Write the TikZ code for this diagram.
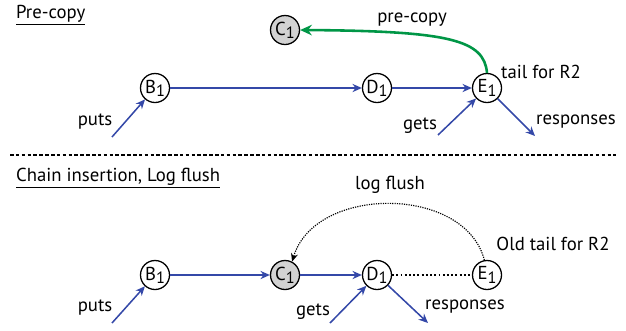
\documentclass[tikz,border=0pt]{standalone}
\usepackage{fontspec}
\setmainfont{PT Sans}
\usepackage{tikz}
\usetikzlibrary{arrows.meta, positioning, calc}

\definecolor{chainblue}{RGB}{52,72,168}
\definecolor{copygreen}{RGB}{0,150,70}
\newcommand{\rep}[1]{#1\raisebox{-0.35ex}{\fontsize{14}{14}\selectfont 1}}

\begin{document}
\begin{tikzpicture}[x=0.03cm, y=-0.03cm, font=\fontsize{16}{18}\selectfont]
  \useasboundingbox (0,0) rectangle (626,330);

  % --- Styles ---
  \tikzset{
    replica/.style={circle, draw, line width=1.1pt, minimum size=0.87cm, inner sep=0pt},
    new replica/.style={replica, fill=gray!35},
    chain link/.style={chainblue, line width=1.3pt, -{Stealth[length=8pt, width=7pt]}},
    copy link/.style={copygreen, line width=2.2pt, -{Stealth[length=10pt, width=9pt]}},
    flush link/.style={densely dotted, line width=1pt, -{Stealth[length=7pt, width=6pt]}},
    heading/.style={anchor=west}
  }

  % --- Pre-copy ---
  \node[heading] (headtop) at (12,15) {\underline{Pre-copy}};

  \node[replica] (tB) at (155,88) {\rep{B}};
  \node[replica] (tD) at (377,88) {\rep{D}};
  \node[replica] (tE) at (487,88) {\rep{E}};
  \node[new replica] (tC) at (285,30) {\rep{C}};

  \draw[chain link] (tB) -- (tD);
  \draw[chain link] (tD) -- (tE);

  \coordinate (tputs) at (112,137);
  \coordinate (tgets) at (438,135);
  \coordinate (tresp) at (535,136);
  \draw[chain link] (tputs) -- (tB);
  \draw[chain link] (tgets) -- (tE);
  \draw[chain link] (tE) -- (tresp);

  \node (tputslabel) at (95,122) {puts};
  \node (tgetslabel) at (420,126) {gets};
  \node (tresplabel) at (576,122) {responses};
  \node (ttail) at (541,72) {tail for R2};

  \draw[copy link] (tE.north) .. controls (484,40) and (450,31) .. (tC.east);
  \node (tcopy) at (412,20) {pre-copy};

  % --- Separator ---
  \draw[densely dashed, line width=0.9pt] (10,155) -- (616,155);

  % --- Chain insertion, Log flush ---
  \node[heading] (headbot) at (12,178) {\underline{Chain insertion, Log flush}};

  \node[replica] (bB) at (155,275) {\rep{B}};
  \node[new replica] (bC) at (285,275) {\rep{C}};
  \node[replica] (bD) at (377,275) {\rep{D}};
  \node[replica] (bE) at (487,275) {\rep{E}};

  \draw[chain link] (bB) -- (bC);
  \draw[chain link] (bC) -- (bD);
  \draw[dotted, line width=1.6pt] (bD) -- (bE);

  \coordinate (bputs) at (112,323);
  \coordinate (bgets) at (330,323);
  \coordinate (bresp) at (428,323);
  \draw[chain link] (bputs) -- (bB);
  \draw[chain link] (bgets) -- (bD);
  \draw[chain link] (bD) -- (bresp);

  \node (bputslabel) at (95,308) {puts};
  \node (bgetslabel) at (313,312) {gets};
  \node (bresplabel) at (465,307) {responses};
  \node (btail) at (553,244) {Old tail for R2};

  \draw[flush link] (bE.100) .. controls (465,185) and (315,185) .. (bC.62);
  \node (bflush) at (390,185) {log flush};

\end{tikzpicture}
\end{document}
